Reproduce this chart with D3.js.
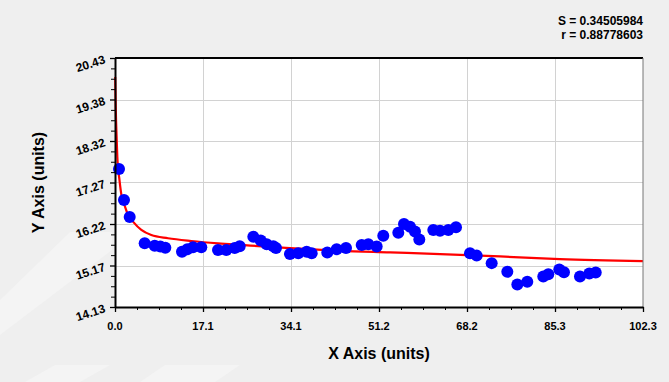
<!DOCTYPE html>
<html>
<head>
<meta charset="utf-8">
<script src="https://cdn.jsdelivr.net/npm/d3@7/dist/d3.min.js"></script>
<style>
  html, body { margin: 0; padding: 0; background: #efefef; }
  svg { display: block; }
  text { font-family: "Liberation Sans", Arial, sans-serif; font-weight: bold; fill: #000; }
</style>
</head>
<body>
<svg id="chart" width="669" height="382"></svg>
<script>
// Observed data
const xValues = [0.78, 1.74, 2.85, 5.75, 7.69, 8.78, 9.75, 12.98, 14.01, 15.11, 16.72, 19.96, 21.56, 23.19, 24.16,
  26.80, 28.23, 29.39, 30.67, 31.19, 33.90, 35.51, 37.14, 38.11, 41.13, 42.95, 44.76, 47.80, 49.08, 50.70,
  51.98, 54.89, 55.99, 57.16, 58.12, 58.96, 61.67, 62.97, 64.58, 66.07, 68.78, 70.08, 72.98, 76.01, 77.95,
  79.88, 82.98, 83.95, 86.08, 86.99, 90.09, 91.90, 93.14];
const yValues = [17.62, 16.84, 16.41, 15.74, 15.68, 15.66, 15.63, 15.53, 15.59, 15.64, 15.64, 15.57, 15.57, 15.62, 15.67,
  15.91, 15.81, 15.72, 15.67, 15.62, 15.47, 15.49, 15.53, 15.49, 15.51, 15.59, 15.62, 15.70, 15.72, 15.66,
  15.93, 16.01, 16.23, 16.16, 16.04, 15.84, 16.08, 16.06, 16.08, 16.15, 15.49, 15.43, 15.24, 15.02, 14.70,
  14.77, 14.90, 14.96, 15.08, 15.01, 14.90, 14.98, 15.00];

// Fitted curve, sampled
const fitX = [0.04, 0.14, 0.33, 0.45, 0.87, 1.30, 1.94, 2.52, 3.49, 5.10, 7.03, 10.27, 14.78, 19.96, 24.47,
  33.9, 43.6, 53.3, 63.0, 74.6, 86.2, 102.3];
const fitY = [19.95, 19.20, 18.36, 17.93, 17.34, 16.92, 16.67, 16.46, 16.29, 16.08, 15.95, 15.87, 15.80, 15.74, 15.70,
  15.62, 15.55, 15.51, 15.47, 15.41, 15.34, 15.29];

// Axis ticks
const xTicks = [0, 17.05, 34.1, 51.15, 68.2, 85.25, 102.3];
const xTickLabels = ["0.0", "17.1", "34.1", "51.2", "68.2", "85.3", "102.3"];
const yTicks = [14.13, 15.18, 16.23, 17.28, 18.33, 19.38, 20.43];
const yTickLabels = ["14.13", "15.17", "16.22", "17.27", "18.32", "19.38", "20.43"];

const statLines = ["S = 0.34505984", "r = 0.88778603"];

const svg = d3.select("#chart");
const W = 669, H = 382;
const L = 115, R = 643, T = 58, B = 307;

svg.append("rect").attr("width", W).attr("height", H).attr("fill", "#efefef");

// faint background emblem
const emblem = svg.append("g").attr("fill", "#f4f4f4");
emblem.append("polygon").attr("points", "0,335 0,300 70,232 112,232 112,250");
emblem.append("polygon").attr("points", "25,382 55,365 110,365 80,382");
emblem.append("polygon").attr("points", "140,382 165,365 240,365 215,382");

const x = d3.scaleLinear().domain([0, 102.3]).range([L, R]);
const y = d3.scaleLinear().domain([14.13, 20.43]).range([B, T]);

// minor tick positions: three between each pair of majors
const minor = (ticks) => {
  const out = [];
  for (let i = 0; i < ticks.length - 1; i++) {
    const step = (ticks[i + 1] - ticks[i]) / 4;
    for (let k = 1; k < 4; k++) out.push(ticks[i] + k * step);
  }
  return out;
};

// plot area
svg.append("rect").attr("x", L).attr("y", T).attr("width", R - L).attr("height", B - T).attr("fill", "#fff");

// grid
const grid = svg.append("g").attr("stroke", "#d2d2d2").attr("stroke-width", 1);
grid.selectAll("line.gx").data(xTicks.slice(1, -1)).join("line")
  .attr("x1", d => Math.round(x(d)) + 0.5).attr("x2", d => Math.round(x(d)) + 0.5)
  .attr("y1", T).attr("y2", B);
grid.selectAll("line.gy").data(yTicks.slice(1, -1)).join("line")
  .attr("x1", L).attr("x2", R)
  .attr("y1", d => Math.round(y(d)) + 0.5).attr("y2", d => Math.round(y(d)) + 0.5);

// fitted curve
const line = d3.line().x((d, i) => x(fitX[i])).y((d, i) => y(fitY[i])).curve(d3.curveMonotoneX);
svg.append("path").datum(fitX).attr("d", line)
  .attr("fill", "none").attr("stroke", "#ff0000").attr("stroke-width", 2.2);

// points
svg.append("g").selectAll("circle").data(xValues).join("circle")
  .attr("cx", (d, i) => x(xValues[i])).attr("cy", (d, i) => y(yValues[i]))
  .attr("r", 6).attr("fill", "#0000ff");

// frame
svg.append("line").attr("x1", L).attr("x2", R).attr("y1", T).attr("y2", T).attr("stroke", "#000").attr("stroke-width", 2);
svg.append("line").attr("x1", R).attr("x2", R).attr("y1", T).attr("y2", B).attr("stroke", "#777").attr("stroke-width", 1);

// x axis
const xAxis = svg.append("g").attr("transform", `translate(0,${B})`)
  .call(d3.axisBottom(x).tickValues(xTicks).tickSize(5).tickSizeOuter(0).tickFormat(""));
xAxis.select(".domain").attr("stroke-width", 2);
xAxis.selectAll(".tick line").attr("stroke-width", 1.3);
svg.append("g").attr("transform", `translate(0,${B})`)
  .call(d3.axisBottom(x).tickValues(minor(xTicks)).tickSize(3).tickFormat(""))
  .call(g => g.select(".domain").remove());
svg.append("g").selectAll("text").data(xTicks).join("text")
  .attr("x", d => x(d)).attr("y", 330)
  .attr("text-anchor", "middle").attr("font-size", 11)
  .text((d, i) => xTickLabels[i]);

// y axis
const yAxis = svg.append("g").attr("transform", `translate(${L},0)`)
  .call(d3.axisLeft(y).tickValues(yTicks).tickSize(5).tickSizeOuter(0).tickFormat(""));
yAxis.select(".domain").attr("stroke-width", 2);
yAxis.selectAll(".tick line").attr("stroke-width", 1.3);
svg.append("g").attr("transform", `translate(${L},0)`)
  .call(d3.axisLeft(y).tickValues(minor(yTicks)).tickSize(4).tickFormat(""))
  .call(g => g.select(".domain").remove());
svg.append("g").selectAll("text").data(yTicks).join("text")
  .attr("transform", d => `translate(106,${y(d) + 5}) rotate(-18)`)
  .attr("text-anchor", "end").attr("font-size", 12)
  .text((d, i) => yTickLabels[i]);

// axis titles
svg.append("text").attr("x", (L + R) / 2).attr("y", 359)
  .attr("text-anchor", "middle").attr("font-size", 16).text("X Axis (units)");
svg.append("text").attr("transform", `translate(44,${(T + B) / 2}) rotate(-90)`)
  .attr("text-anchor", "middle").attr("font-size", 16).text("Y Axis (units)");

// statistics
svg.append("g").selectAll("text").data(statLines).join("text")
  .attr("x", R).attr("y", (d, i) => 25 + i * 14)
  .attr("text-anchor", "end").attr("font-size", 12)
  .text(d => d);
</script>
</body>
</html>
